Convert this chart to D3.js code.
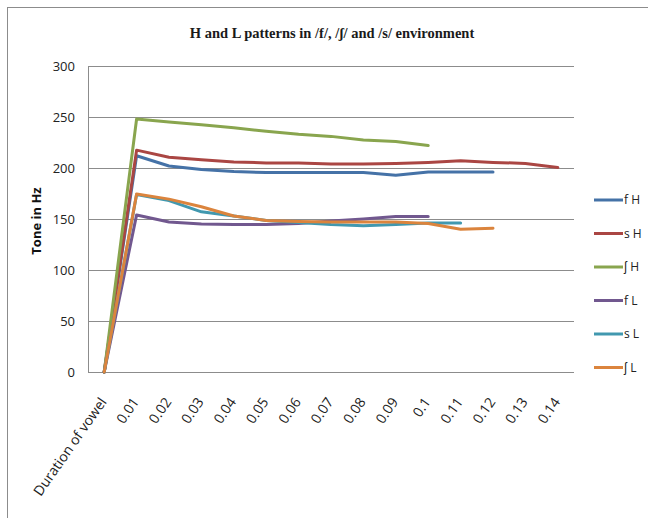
<!DOCTYPE html>
<html>
<head>
<meta charset="utf-8">
<script src="https://cdn.jsdelivr.net/npm/d3@7"></script>
<style>
  html, body { margin: 0; padding: 0; background: #fff; }
  svg { display: block; }
</style>
</head>
<body>
<svg id="chart" width="648" height="518"></svg>
<script>
// Categories along the x axis
const categories = ["Duration of vowel", "0.01", "0.02", "0.03", "0.04", "0.05", "0.06", "0.07",
  "0.08", "0.09", "0.1", "0.11", "0.12", "0.13", "0.14"];

// Tone values (Hz) per series; null where the series has no measurement
const fH   = [0, 212, 202, 198.5, 196.5, 195.5, 195.5, 195.5, 195.5, 193, 196, 196, 196, null, null];
const sH   = [0, 217.5, 210.5, 208, 206, 205, 205, 204, 204, 204.5, 205.5, 207, 205.5, 204.5, 200.5];
const eshH = [0, 248, 245, 242.5, 239.5, 236, 233, 231, 227.5, 226, 222, null, null, null, null];
const fL   = [0, 154, 147, 145, 144.5, 144.5, 145.5, 148, 150, 152.5, 152.5, null, null, null, null];
const sL   = [0, 174, 168, 157, 153, 148.5, 146.5, 144.5, 143.5, 144.5, 146, 146, null, null, null];
const eshL = [0, 174.5, 169.5, 162, 153, 148.5, 147.5, 147, 147, 147, 145.5, 140, 141, null, null];

const seriesNames = ["f H", "s H", "\u0283 H", "f L", "s L", "\u0283 L"];
const seriesValues = [fH, sH, eshH, fL, sL, eshL];
const seriesColors = ["#4572A7", "#AA4643", "#89A54E", "#71588F", "#4198AF", "#DB843D"];

const yTicks = [0, 50, 100, 150, 200, 250, 300];

const svg = d3.select("#chart");

// Outer chart frame
svg.append("rect")
  .attr("x", 7.5).attr("y", 7.5)
  .attr("width", 700).attr("height", 600)
  .attr("fill", "none").attr("stroke", "#8c8c8c").attr("stroke-width", 1);

const plot = { left: 88, right: 574, top: 66, bottom: 372 };

const x = d3.scaleBand().domain(categories).range([plot.left, plot.right]);
const y = d3.scaleLinear().domain([0, 300]).range([plot.bottom, plot.top]);

// Title
svg.append("text")
  .attr("x", 332).attr("y", 38)
  .attr("text-anchor", "middle")
  .attr("font-family", "'Liberation Serif', 'Times New Roman', serif")
  .attr("font-weight", "bold")
  .attr("font-size", 14.5)
  .attr("fill", "#1a1a1a")
  .text("H and L patterns in /f/, /\u0283/ and /s/ environment");

// Horizontal gridlines
svg.append("g")
  .selectAll("line")
  .data(yTicks)
  .join("line")
  .attr("x1", plot.left).attr("x2", plot.right)
  .attr("y1", d => Math.round(y(d)) + 0.5).attr("y2", d => Math.round(y(d)) + 0.5)
  .attr("stroke", "#8c8c8c").attr("stroke-width", 1);

// Left axis line
svg.append("line")
  .attr("x1", plot.left + 0.5).attr("x2", plot.left + 0.5)
  .attr("y1", plot.top).attr("y2", plot.bottom + 0.5)
  .attr("stroke", "#8c8c8c");

// Y axis labels
const yAxis = d3.axisLeft(y).tickValues(yTicks).tickSize(0).tickPadding(13);
const gy = svg.append("g").attr("transform", `translate(${plot.left},0)`).call(yAxis);
gy.select(".domain").remove();
gy.selectAll("text")
  .attr("font-family", "'Open Sans', 'Noto Sans', sans-serif")
  .attr("font-size", 13)
  .attr("fill", "#222");

// Y axis title
svg.append("text")
  .attr("transform", `translate(41,${(plot.top + plot.bottom) / 2 + 2}) rotate(-90)`)
  .attr("text-anchor", "middle")
  .attr("font-family", "'Open Sans', 'Noto Sans', sans-serif")
  .attr("font-weight", "bold")
  .attr("font-size", 13)
  .attr("fill", "#111")
  .text("Tone in Hz");

// X axis labels, rotated
const xAxis = d3.axisBottom(x).tickSize(0).tickPadding(0);
const gx = svg.append("g").attr("transform", `translate(0,${plot.bottom})`).call(xAxis);
gx.select(".domain").remove();
gx.selectAll(".tick text")
  .attr("font-family", "'Open Sans', 'Noto Sans', sans-serif")
  .attr("font-size", 14)
  .attr("fill", "#222")
  .attr("text-anchor", "end")
  .attr("y", 0)
  .attr("dy", 0)
  .attr("transform", "translate(3,30) rotate(-55)");

// Series lines
const line = d3.line()
  .defined(d => d != null)
  .x((d, i) => x(categories[i]) + x.bandwidth() / 2)
  .y(d => y(d));

svg.append("g")
  .selectAll("path")
  .data(seriesValues)
  .join("path")
  .attr("d", d => line(d))
  .attr("fill", "none")
  .attr("stroke", (d, i) => seriesColors[i])
  .attr("stroke-width", 3)
  .attr("stroke-linejoin", "round")
  .attr("stroke-linecap", "round");

// Legend
const legend = svg.append("g")
  .selectAll("g")
  .data(seriesNames)
  .join("g")
  .attr("transform", (d, i) => `translate(594,${200 + i * 33.5})`);
legend.append("line")
  .attr("x1", 0).attr("x2", 29)
  .attr("stroke", (d, i) => seriesColors[i])
  .attr("stroke-width", 3);
legend.append("text")
  .attr("x", 30).attr("dy", "0.35em")
  .attr("font-family", "'Open Sans', 'Noto Sans', sans-serif")
  .attr("font-size", 12)
  .attr("fill", "#222")
  .text(d => d);
</script>
</body>
</html>
